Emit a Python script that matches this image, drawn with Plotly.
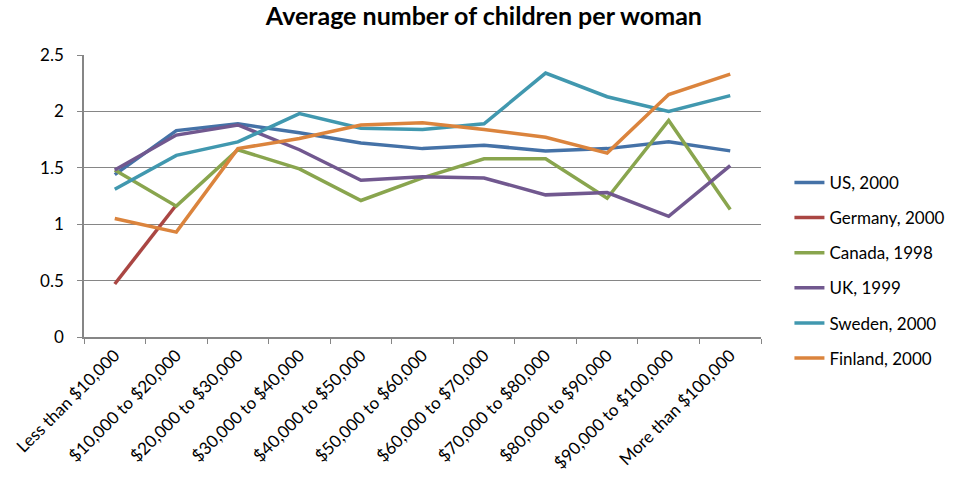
import plotly.graph_objects as go

categories = [
    "Less than $10,000", "$10,000 to $20,000", "$20,000 to $30,000",
    "$30,000 to $40,000", "$40,000 to $50,000", "$50,000 to $60,000",
    "$60,000 to $70,000", "$70,000 to $80,000", "$80,000 to $90,000",
    "$90,000 to $100,000", "More than $100,000",
]

us_2000 = [1.44, 1.83, 1.89, 1.81, 1.72, 1.67, 1.70, 1.65, 1.67, 1.73, 1.65]
germany_2000 = [0.47, 1.17, None, None, None, None, None, None, None, None, None]
canada_1998 = [1.48, 1.16, 1.66, 1.49, 1.21, 1.41, 1.58, 1.58, 1.23, 1.92, 1.13]
uk_1999 = [1.48, 1.79, 1.88, 1.66, 1.39, 1.42, 1.41, 1.26, 1.28, 1.07, 1.52]
sweden_2000 = [1.31, 1.61, 1.73, 1.98, 1.85, 1.84, 1.89, 2.34, 2.13, 2.00, 2.14]
finland_2000 = [1.05, 0.93, 1.67, 1.76, 1.88, 1.90, 1.84, 1.77, 1.63, 2.15, 2.33]

series = [
    ("US, 2000", us_2000, "#4572A7"),
    ("Germany, 2000", germany_2000, "#AA4643"),
    ("Canada, 1998", canada_1998, "#89A54E"),
    ("UK, 1999", uk_1999, "#71588F"),
    ("Sweden, 2000", sweden_2000, "#4198AF"),
    ("Finland, 2000", finland_2000, "#DB843D"),
]

y_ticks = [0, 0.5, 1, 1.5, 2, 2.5]
y_tick_text = ["0", "0.5", "1", "1.5", "2", "2.5"]

font_family = "Lato, 'Open Sans', sans-serif"

fig = go.Figure()
for i, (name, values, color) in enumerate(series):
    fig.add_trace(go.Scatter(
        x=categories, y=values, name=name, mode="lines",
        line=dict(color=color, width=3.5),
        legendgroup=f"g{i}",
    ))

fig.update_layout(
    width=962, height=485,
    margin=dict(l=77, r=197, t=55, b=147),
    paper_bgcolor="white", plot_bgcolor="white",
    font=dict(family=font_family, size=17, color="#000000"),
    title=dict(
        text="<b>Average number of children per woman</b>",
        x=0.503, xref="container", xanchor="center",
        y=0.966, yref="container", yanchor="middle",
        font=dict(size=25, family=font_family, color="#000000"),
    ),
    showlegend=True,
    legend=dict(
        x=1.042, xanchor="left", y=0.236, yanchor="middle",
        yref="paper",
        font=dict(size=17, family=font_family),
        tracegroupgap=10,
        bgcolor="rgba(0,0,0,0)",
    ),
    xaxis=dict(
        type="category", range=[-0.5, 10.5],
        tickangle=-45, tickson="boundaries",
        ticks="outside", ticklen=5, tickcolor="#868686",
        showline=True, linecolor="#868686", linewidth=1.5,
        showgrid=False, zeroline=False,
        tickfont=dict(size=17, family=font_family),
    ),
    yaxis=dict(
        range=[0, 2.5], tickvals=y_ticks, ticktext=y_tick_text,
        ticks="outside", ticklen=5, tickcolor="#868686",
        ticklabelstandoff=10,
        showline=True, linecolor="#868686", linewidth=1.5,
        showgrid=True, gridcolor="#868686", gridwidth=1.3,
        zeroline=False,
        tickfont=dict(size=17, family=font_family),
    ),
)

fig.write_html("out.html")
